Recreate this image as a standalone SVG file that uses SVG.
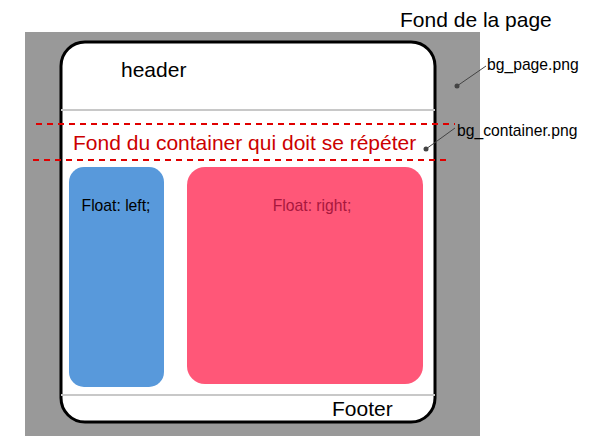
<svg xmlns="http://www.w3.org/2000/svg" width="597" height="448" viewBox="0 0 597 448">
<style>
text{font-family:"Liberation Sans",Arial,sans-serif}
.big{font-size:21px;fill:#000}
.small{font-size:15.7px;fill:#000}
.dash{stroke:#e00000;stroke-width:2;stroke-dasharray:6,5;fill:none}
.sep{stroke:#c8c8c8;stroke-width:2}
.lead{stroke:#444;stroke-width:1;fill:none}
.dot{fill:#444}
</style>
<rect width="597" height="448" fill="#fff"/>
<g id="page">
<rect x="25" y="32" width="455" height="404" fill="#999"/>
<text class="big" x="400" y="27">Fond de la page</text>
</g>
<g id="container">
<rect x="61" y="42" width="374" height="380" rx="24" fill="#fff" stroke="#000" stroke-width="3"/>
<line class="sep" x1="61" y1="110" x2="435" y2="110"/>
<line class="sep" x1="61" y1="395" x2="435" y2="395"/>
</g>
<g id="header"><text class="big" x="121" y="77">header</text></g>
<g id="footer"><text class="big" x="332" y="416">Footer</text></g>
<g id="repeat">
<line class="dash" x1="36" y1="124" x2="455" y2="124"/>
<line class="dash" x1="33" y1="160" x2="450" y2="160"/>
<text x="73" y="150" font-size="21" fill="#cc0000">Fond du container qui doit se répéter</text>
</g>
<g id="float-left">
<rect x="69" y="167" width="95" height="220" rx="15" fill="#5899db"/>
<text class="small" x="116" y="211" text-anchor="middle" fill="#111">Float: left;</text>
</g>
<g id="float-right">
<rect x="187" y="167" width="236" height="217" rx="18" fill="#ff5778"/>
<text class="small" x="312" y="211" text-anchor="middle" style="fill:#a8173e">Float: right;</text>
</g>
<g id="connectors">
<line class="lead" x1="457" y1="86" x2="486" y2="66"/>
<circle class="dot" cx="457" cy="86" r="2.5"/>
<line class="lead" x1="426" y1="149" x2="455" y2="128"/>
<circle class="dot" cx="426" cy="149" r="2.5"/>
</g>
<g id="labels">
<text class="small" x="487" y="70">bg_page.png</text>
<text class="small" x="457" y="136">bg_container.png</text>
</g>
</svg>
